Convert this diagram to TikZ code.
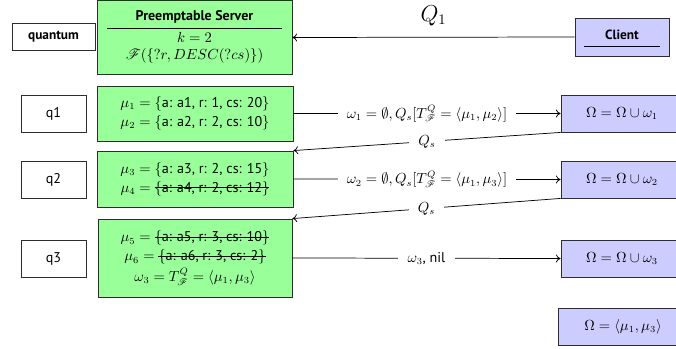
\documentclass[tikz,border=0pt]{standalone}
\usepackage{amssymb,mathrsfs}
\usepackage{fontspec}
\setmainfont{PT Sans}
\usetikzlibrary{arrows.meta}
\newsavebox\mystrikebox
\newcommand\mystrike[1]{\sbox\mystrikebox{#1}\rlap{\usebox\mystrikebox}\rule[0.6ex]{\wd\mystrikebox}{0.5pt}}
\definecolor{boxgreen}{RGB}{153,255,153}
\definecolor{boxblue}{RGB}{204,204,255}
\definecolor{edgegray}{RGB}{45,45,45}
\begin{document}
\begin{tikzpicture}[x=0.75pt,y=-0.75pt,
  base/.style={draw=edgegray, line width=0.65pt, inner sep=0pt, align=center,
    font=\fontsize{10.6}{14.25}\selectfont},
  plainbox/.style={base, fill=white},
  gbox/.style={base, fill=boxgreen},
  bbox/.style={base, fill=boxblue},
  txt/.style={inner sep=0pt, align=center, font=\fontsize{10.6}{14.25}\selectfont},
  conn/.style={line width=0.55pt, -{To[length=3.5pt,width=6pt]}},
  lbl/.style={fill=white, inner xsep=7pt, inner ysep=1pt, font=\fontsize{10.6}{12}\selectfont}
]
\useasboundingbox (0,0) rectangle (676,349);
\clip (0,0) rectangle (676,349);

% header row
\node[plainbox, minimum width=62.25pt, minimum height=20.25pt,
  font=\fontsize{10}{12}\selectfont\bfseries] (quantum) at (53.5,36.5) {quantum};
\node[gbox, minimum width=146.25pt, minimum height=55.5pt] (server) at (194.5,37.5) {};
\node[txt, font=\fontsize{10.5}{12}\selectfont\bfseries] (srvtitle) at (194.5,17) {Preemptable Server};
\draw[line width=0.6pt] (107,28) -- (282,28);
\node[txt] (srvk) at (194.5,37) {$k=2$};
\node[txt] (srvf) at (194.5,56) {$\mathscr{F}(\{?r, DESC(?cs)\})$};

\node[bbox, minimum width=70.5pt, minimum height=28.5pt] (client) at (622,37) {};
\node[txt, font=\fontsize{10}{12}\selectfont\bfseries] (clienttxt) at (622,35) {Client};
\draw[line width=0.6pt] (584,46) -- (660,46);

\draw[conn] (client.west) -- node[above=5pt, font=\fontsize{16}{18}\selectfont] {$Q_1$} (server.east);

% row 1
\node[plainbox, minimum width=48.75pt, minimum height=27.75pt] (q1) at (53.5,113.5) {q1};
\node[gbox, minimum width=147pt, minimum height=41.25pt] (g1) at (195,113.5)
  {$\mu_1 = \{$a: a1, r: 1, cs: 20$\}$\\ $\mu_2 = \{$a: a2, r: 2, cs: 10$\}$};
\node[bbox, minimum width=91.5pt, minimum height=27.75pt] (o1) at (622,113.5) {$\Omega = \Omega\cup\omega_1$};

% row 2
\node[plainbox, minimum width=48.75pt, minimum height=27.75pt] (q2) at (53.5,179.5) {q2};
\node[gbox, minimum width=147pt, minimum height=42pt] (g2) at (195,179)
  {$\mu_3 = \{$a: a3, r: 2, cs: 15$\}$\\ $\mu_4 =$ \mystrike{$\{$a: a4, r: 2, cs: 12$\}$}};
\node[bbox, minimum width=91.5pt, minimum height=27.75pt] (o2) at (622,179.5) {$\Omega = \Omega\cup\omega_2$};

% row 3
\node[plainbox, minimum width=48.75pt, minimum height=27.75pt] (q3) at (53.5,258.5) {q3};
\node[gbox, minimum width=145.5pt, minimum height=58.5pt] (g3) at (195,258)
  {$\mu_5 =$ \mystrike{$\{$a: a5, r: 3, cs: 10$\}$}\\ $\mu_6 =$ \mystrike{$\{$a: a6, r: 3, cs: 2$\}$}\\[1pt]
   $\omega_3 = T^{Q}_{\mathscr{F}} = \langle \mu_1, \mu_3\rangle$};
\node[bbox, minimum width=91.5pt, minimum height=27.75pt] (o3) at (622,258.5) {$\Omega = \Omega\cup\omega_3$};

% row 4
\node[bbox, minimum width=97.5pt, minimum height=27.75pt] (o4) at (623,326.5) {$\Omega = \langle \mu_1, \mu_3\rangle$};

% connectors
\draw[conn] (g1.east) -- node[lbl] {$\omega_1 = \emptyset, Q_s[T^{Q}_{\mathscr{F}} = \langle \mu_1, \mu_2\rangle]$} (o1.west);
\draw[conn] (o1.south west) -- node[lbl] {$Q_s$} (g2.north east);
\draw[conn] (g2.east) -- node[lbl] {$\omega_2 = \emptyset, Q_s[T^{Q}_{\mathscr{F}} = \langle \mu_1, \mu_3\rangle]$} (o2.west);
\draw[conn] (o2.south west) -- node[lbl] {$Q_s$} (g3.north east);
\draw[conn] (g3.east) -- node[lbl] {$\omega_3$, nil} (o3.west);
\end{tikzpicture}
\end{document}
